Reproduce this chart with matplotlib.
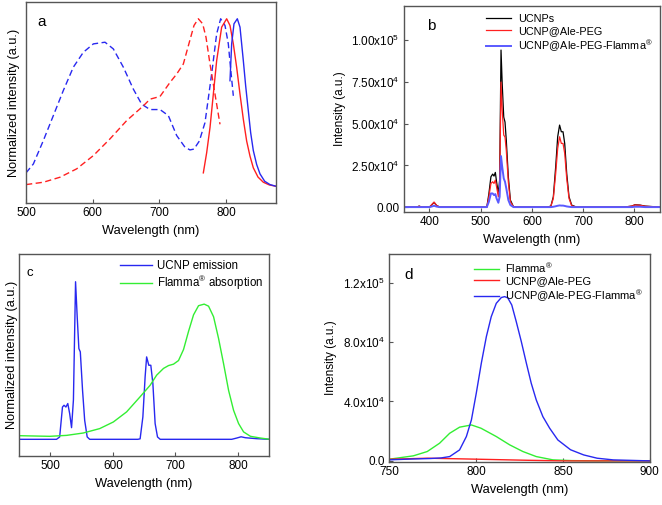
import matplotlib.pyplot as plt
from matplotlib.ticker import FixedLocator

plt.rcParams['font.family'] = ['Liberation Sans', 'DejaVu Sans']
plt.rcParams['mathtext.fontset'] = 'custom'
plt.rcParams['mathtext.rm'] = 'Liberation Sans'
plt.rcParams['mathtext.it'] = 'Liberation Sans'

REG = r'$^{\circledR}$'

# ---- panel a: normalized absorption (dashed) / emission (solid)
a_blue_dash_x = [500, 511, 526, 541, 556, 571, 586, 601, 618.5, 631, 646, 661, 673.5, 686, 701,
                 713.5, 726, 738.5, 746, 752, 760, 768.5, 778.5, 786, 792, 798.5, 803.5, 807, 811]
a_blue_dash_y = [0.08, 0.133, 0.273, 0.422, 0.572, 0.711, 0.80, 0.85, 0.86, 0.82, 0.711, 0.58, 0.49,
                 0.458, 0.458, 0.422, 0.303, 0.233, 0.217, 0.222, 0.27, 0.38, 0.671, 0.91, 1.0, 0.96,
                 0.85, 0.70, 0.54]
a_red_dash_x = [500, 526, 551, 576, 601, 626, 651, 676, 686, 701, 716, 726, 736, 745, 752, 758.5,
                765, 770, 776, 783.5, 791]
a_red_dash_y = [0.01, 0.024, 0.054, 0.104, 0.183, 0.283, 0.392, 0.48, 0.52, 0.536, 0.62, 0.67, 0.73,
                0.86, 0.96, 1.0, 0.97, 0.89, 0.73, 0.55, 0.37]
a_red_x = [766, 771, 776, 781, 786, 793.5, 801, 806, 811, 816, 821, 826, 831, 836, 841, 848,
           856, 865, 875]
a_red_y = [0.08, 0.20, 0.35, 0.55, 0.75, 0.95, 1.0, 0.96, 0.85, 0.71, 0.55, 0.40, 0.27, 0.18, 0.11,
           0.055, 0.024, 0.008, 0.0]
a_blue_x = [806, 808.5, 812, 817, 821, 826, 829.5, 833.5, 837, 841, 846, 851, 858, 866, 875]
a_blue_y = [0.63, 0.85, 0.97, 1.0, 0.95, 0.75, 0.60, 0.45, 0.32, 0.213, 0.13, 0.074, 0.03, 0.01, 0.0]

# ---- panel b: emission spectra
b_x = [350, 375, 380, 385, 400, 404, 409, 414, 420, 500, 512, 516, 520, 523.4, 526, 528.6, 531,
       534.5, 537, 539.7, 542, 545, 547.5, 550, 554, 558, 564, 580, 630, 637, 641.8, 646.4, 650.3,
       654, 657.4, 660.7, 664, 667.9, 672.4, 677.6, 687, 780, 795, 801, 811, 821, 850]
b_black = [0, 0, 600, 0, 0, 1200, 2800, 1000, 0, 0, 0, 8000, 18200, 19800, 18600, 20800, 15200,
           8200, 16200, 94200, 74000, 54000, 51000, 40000, 18000, 4200, 200, 0, 0, 600, 6200, 24200,
           42200, 49200, 45200, 45200, 38200, 20200, 6200, 1200, 0, 0, 600, 1400, 1200, 600, 0]
b_red = [0, 0, 500, 0, 0, 1300, 3000, 1000, 0, 0, 0, 6200, 14200, 15200, 14200, 16200, 12200,
         6200, 12200, 75000, 58200, 43200, 42000, 34000, 15000, 3200, 200, 0, 0, 500, 5200, 20200,
         35200, 42200, 38200, 38200, 32200, 17200, 5200, 800, 0, 0, 600, 1300, 1100, 500, 0]
b_blue = [0, 0, 0, 0, 0, 300, 800, 300, 0, 0, 0, 3200, 8200, 8200, 7200, 7800, 5200,
          2600, 6200, 30600, 24200, 17200, 15200, 11200, 4200, 1200, 0, 0, 0, 0, 200, 500,
          800, 1000, 900, 900, 700, 400, 200, 0, 0, 0, 0, 200, 200, 0, 0]
b_yticks = [0, 25000, 50000, 75000, 100000]
b_ylabels = ['0.00', r'2.50x10$^4$', r'5.00x10$^4$', r'7.50x10$^4$', r'1.00x10$^5$']

# ---- panel c: UCNP emission vs Flamma absorption (normalized)
c_em_x = [450, 510, 515, 519.5, 522, 525, 528, 531, 534, 537, 540.4, 543, 545.7, 548, 551.6, 555,
          559, 563, 640, 643.6, 648, 651.6, 654, 657.5, 660.7, 664, 667.6, 671.4, 675.7, 790, 798,
          805, 812, 830, 850]
c_em_y = [0, 0, 0.015, 0.205, 0.216, 0.205, 0.227, 0.163, 0.074, 0.25, 1.0, 0.78, 0.576, 0.555,
          0.31, 0.12, 0.015, 0, 0, 0.003, 0.142, 0.396, 0.523, 0.47, 0.47, 0.354, 0.10, 0.015, 0,
          0, 0.008, 0.016, 0.01, 0.004, 0]
c_ab_x = [450, 499, 526, 552.7, 579, 600.8, 622, 643.6, 659.6, 670, 681, 689, 697, 705, 713, 721,
          729, 737, 746, 753, 761, 769, 777, 785, 793, 801, 809, 820, 836, 851]
c_ab_y = [0.023, 0.019, 0.025, 0.04, 0.068, 0.11, 0.174, 0.27, 0.343, 0.407, 0.45, 0.468, 0.477,
          0.50, 0.57, 0.685, 0.79, 0.848, 0.858, 0.845, 0.778, 0.64, 0.48, 0.311, 0.184, 0.10,
          0.047, 0.019, 0.008, 0.0]

# ---- panel d: NIR emission
d_blue_x = [750, 764, 774, 780, 784.9, 790.6, 794.5, 797.4, 800.2, 803.1, 806, 808.8, 811.7,
            814.6, 816.5, 818.3, 820.6, 823.2, 826.1, 829, 831.8, 834.7, 838.5, 842.4, 847.1,
            854.4, 862, 869.7, 879, 900]
d_blue = [700, 1300, 1600, 2000, 2900, 7400, 16400, 27600, 45600, 65800, 83700, 97100, 106100,
          110000, 110600, 109800, 105000, 93700, 80300, 65800, 52300, 41000, 29800, 22000, 14100,
          7500, 4000, 1800, 670, 0]
d_green_x = [750, 764, 772, 779.1, 784.9, 790.6, 797.4, 802.9, 811.7, 819.4, 827, 834.7, 844.2,
             855, 870, 900]
d_green = [1100, 3400, 6300, 11900, 18600, 22700, 24200, 22000, 16400, 10800, 6300, 2900, 700,
           200, 0, 0]
d_red_x = [750, 772, 790, 810, 830, 850, 900]
d_red = [1100, 1800, 1400, 900, 400, 0, 0]
d_yticks = [0, 40000, 80000, 120000]
d_ylabels = ['0.0', r'4.0x10$^4$', r'8.0x10$^4$', r'1.2x10$^5$']

BLUE = '#2828f0'
RED = '#ff2020'
GREEN = '#33ee33'
tick_fs = 8.5
xlab_fs = 9.3
norm_fs = 9.2
int_fs = 8.5

fig = plt.figure(figsize=(6.62, 5.05), dpi=100)


def style(ax):
    for s in ax.spines.values():
        s.set_color('#555555')
        s.set_linewidth(1.0)
    ax.tick_params(direction='in', length=3, width=0.8, color='#555555',
                   labelsize=tick_fs, pad=3)
    ax.set_xlabel('Wavelength (nm)', fontsize=xlab_fs, labelpad=4)


# a
ax = fig.add_axes([0.0393, 0.598, 0.3776, 0.398])
ax.plot(a_blue_dash_x, a_blue_dash_y, color=BLUE, lw=1, ls=(0, (4.5, 2.5)))
ax.plot(a_red_dash_x, a_red_dash_y, color=RED, lw=1, ls=(0, (4.5, 2.5)))
ax.plot(a_red_x, a_red_y, color=RED, lw=1)
ax.plot(a_blue_x, a_blue_y, color=BLUE, lw=1)
ax.set_xlim(500, 875)
ax.set_ylim(-0.1, 1.1)
ax.set_xticks([500, 600, 700, 800])
ax.set_yticks([])
style(ax)
ax.set_ylabel('Normalized intensity (a.u.)', fontsize=norm_fs, labelpad=4)
ax.text(0.045, 0.935, 'a', transform=ax.transAxes, fontsize=11, va='top')

# b
ax = fig.add_axes([0.610, 0.580, 0.387, 0.408])
ax.plot(b_x, b_black, color='black', lw=0.9, label='UCNPs')
ax.plot(b_x, b_red, color=RED, lw=0.9, label='UCNP@Ale-PEG')
ax.plot(b_x, b_blue, color='#5a5aff', lw=1.4, label='UCNP@Ale-PEG-Flamma' + REG)
ax.set_xlim(350, 850)
ax.set_ylim(-3000, 120600)
ax.set_xticks([400, 500, 600, 700, 800])
ax.yaxis.set_major_locator(FixedLocator(b_yticks))
ax.set_yticklabels(b_ylabels)
style(ax)
ax.set_ylabel('Intensity (a.u.)', fontsize=int_fs, labelpad=4)
ax.text(0.09, 0.935, 'b', transform=ax.transAxes, fontsize=11, va='top')
ax.legend(loc='upper right', bbox_to_anchor=(1.0, 1.0), frameon=False, fontsize=7.8,
          handlelength=2.3, handletextpad=0.6, labelspacing=0.2, borderaxespad=0.3)

# c
ax = fig.add_axes([0.0287, 0.097, 0.378, 0.400])
ax.plot(c_em_x, c_em_y, color=BLUE, lw=1, label='UCNP emission')
ax.plot(c_ab_x, c_ab_y, color=GREEN, lw=1, label='Flamma' + REG + ' absorption')
ax.set_xlim(450, 850)
ax.set_ylim(-0.106, 1.176)
ax.set_xticks([500, 600, 700, 800])
ax.set_yticks([])
style(ax)
ax.set_ylabel('Normalized intensity (a.u.)', fontsize=norm_fs, labelpad=1)
ax.text(0.03, 0.935, 'c', transform=ax.transAxes, fontsize=9.5, va='top')
ax.legend(loc='upper right', frameon=False, fontsize=8.3, handlelength=2.8,
          handletextpad=0.4, labelspacing=0.15, borderaxespad=0.15)

# d
ax = fig.add_axes([0.5876, 0.085, 0.394, 0.412])
ax.plot(d_green_x, d_green, color=GREEN, lw=1, label='Flamma' + REG)
ax.plot(d_red_x, d_red, color=RED, lw=1, label='UCNP@Ale-PEG')
ax.plot(d_blue_x, d_blue, color=BLUE, lw=1, label='UCNP@Ale-PEG-Flamma' + REG)
ax.set_xlim(750, 900)
ax.set_ylim(-800, 139300)
ax.set_xticks([750, 800, 850, 900])
ax.yaxis.set_major_locator(FixedLocator(d_yticks))
ax.set_yticklabels(d_ylabels)
style(ax)
ax.set_ylabel('Intensity (a.u.)', fontsize=int_fs, labelpad=4)
ax.text(0.06, 0.935, 'd', transform=ax.transAxes, fontsize=11, va='top')
ax.legend(loc='upper right', frameon=False, fontsize=8, handlelength=2.2,
          handletextpad=0.6, labelspacing=0.15, borderaxespad=0.2)

fig.savefig('out.png', dpi=100)
